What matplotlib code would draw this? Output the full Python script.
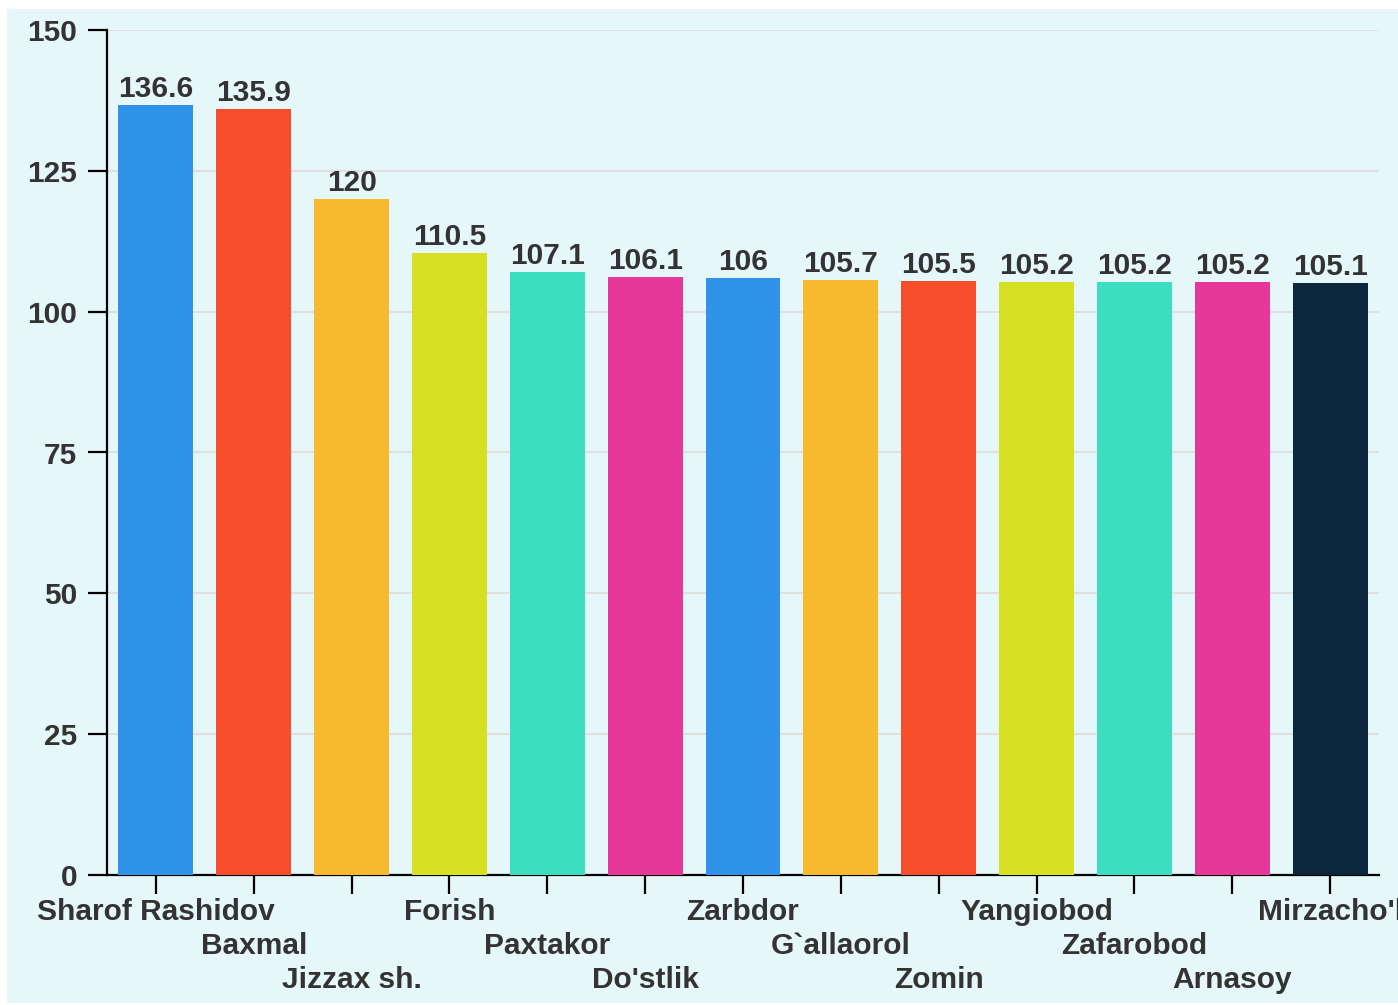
import numpy as np
import matplotlib
matplotlib.use('Agg')
import matplotlib.pyplot as plt
from matplotlib.patches import Rectangle

# Data
districts = ['Sharof Rashidov', 'Baxmal', 'Jizzax sh.', 'Forish', 'Paxtakor',
             "Do'stlik", 'Zarbdor', 'G`allaorol', 'Zomin', 'Yangiobod',
             'Zafarobod', 'Arnasoy', "Mirzacho'l"]
values = [136.6, 135.9, 120, 110.5, 107.1, 106.1, 106, 105.7, 105.5,
          105.2, 105.2, 105.2, 105.1]
value_labels = ['136.6', '135.9', '120', '110.5', '107.1', '106.1', '106',
                '105.7', '105.5', '105.2', '105.2', '105.2', '105.1']
bar_colors = ['#2E93E9', '#F64E2A', '#F7B92D', '#D7DF23', '#3DDDC2', '#E5389A',
              '#2E93E9', '#F7B92D', '#F64E2A', '#D7DF23', '#3DDDC2', '#E5389A',
              '#0C263C']
yticks = [0, 25, 50, 75, 100, 125, 150]

plt.rcParams['font.family'] = ['Liberation Sans', 'DejaVu Sans']
plt.rcParams['font.weight'] = 'bold'

W, H = 1398, 1005
bg = '#E6F7F9'
txt = '#333333'
fsize = 21.5

fig = plt.figure(figsize=(W/100, H/100), dpi=100)
fig.patch.set_facecolor('white')

# light panel behind the chart
fig.patches.append(Rectangle((7/W, 2/H), 1 - 7/W, (1003-9)/H,
                             transform=fig.transFigure, facecolor=bg,
                             edgecolor='none', zorder=-10))

ax = fig.add_axes([107/W, (H-875)/H, (1379-107)/W, (875-30)/H])
ax.set_facecolor(bg)

x = np.arange(len(districts))
ax.bar(x, values, width=0.765, color=bar_colors, zorder=3)

ax.set_xlim(-0.5, len(districts) - 0.5)
ax.set_ylim(0, 150)
ax.set_yticks(yticks)
ax.set_yticklabels([str(v) for v in yticks])
ax.yaxis.grid(True, color='#E0E0E0', linewidth=1.5, zorder=0)
ax.set_axisbelow(True)

for s in ['top', 'right']:
    ax.spines[s].set_visible(False)
for s in ['left', 'bottom']:
    ax.spines[s].set_linewidth(1.6)
    ax.spines[s].set_color('black')

ax.tick_params(axis='both', length=13.5, width=1.6, color='black',
               labelsize=fsize, labelcolor=txt, pad=8)
ax.set_xticks(x)
ax.set_xticklabels([''] * len(x))

# staggered category labels (three rows)
for i, name in enumerate(districts):
    row = i % 3
    ax.annotate(name, xy=(x[i], 0), xycoords=('data', 'axes fraction'),
                xytext=(0, -45 - 34*row), textcoords='offset pixels',
                ha='center', va='baseline', fontsize=fsize,
                fontweight='bold', color=txt, annotation_clip=False)

# value labels above bars
for i, v in enumerate(values):
    ax.annotate(value_labels[i], xy=(x[i], v), xytext=(0, 8),
                textcoords='offset pixels', ha='center', va='baseline',
                fontsize=fsize, fontweight='bold', color=txt)

plt.savefig('out.png', dpi=100, facecolor=fig.get_facecolor())
